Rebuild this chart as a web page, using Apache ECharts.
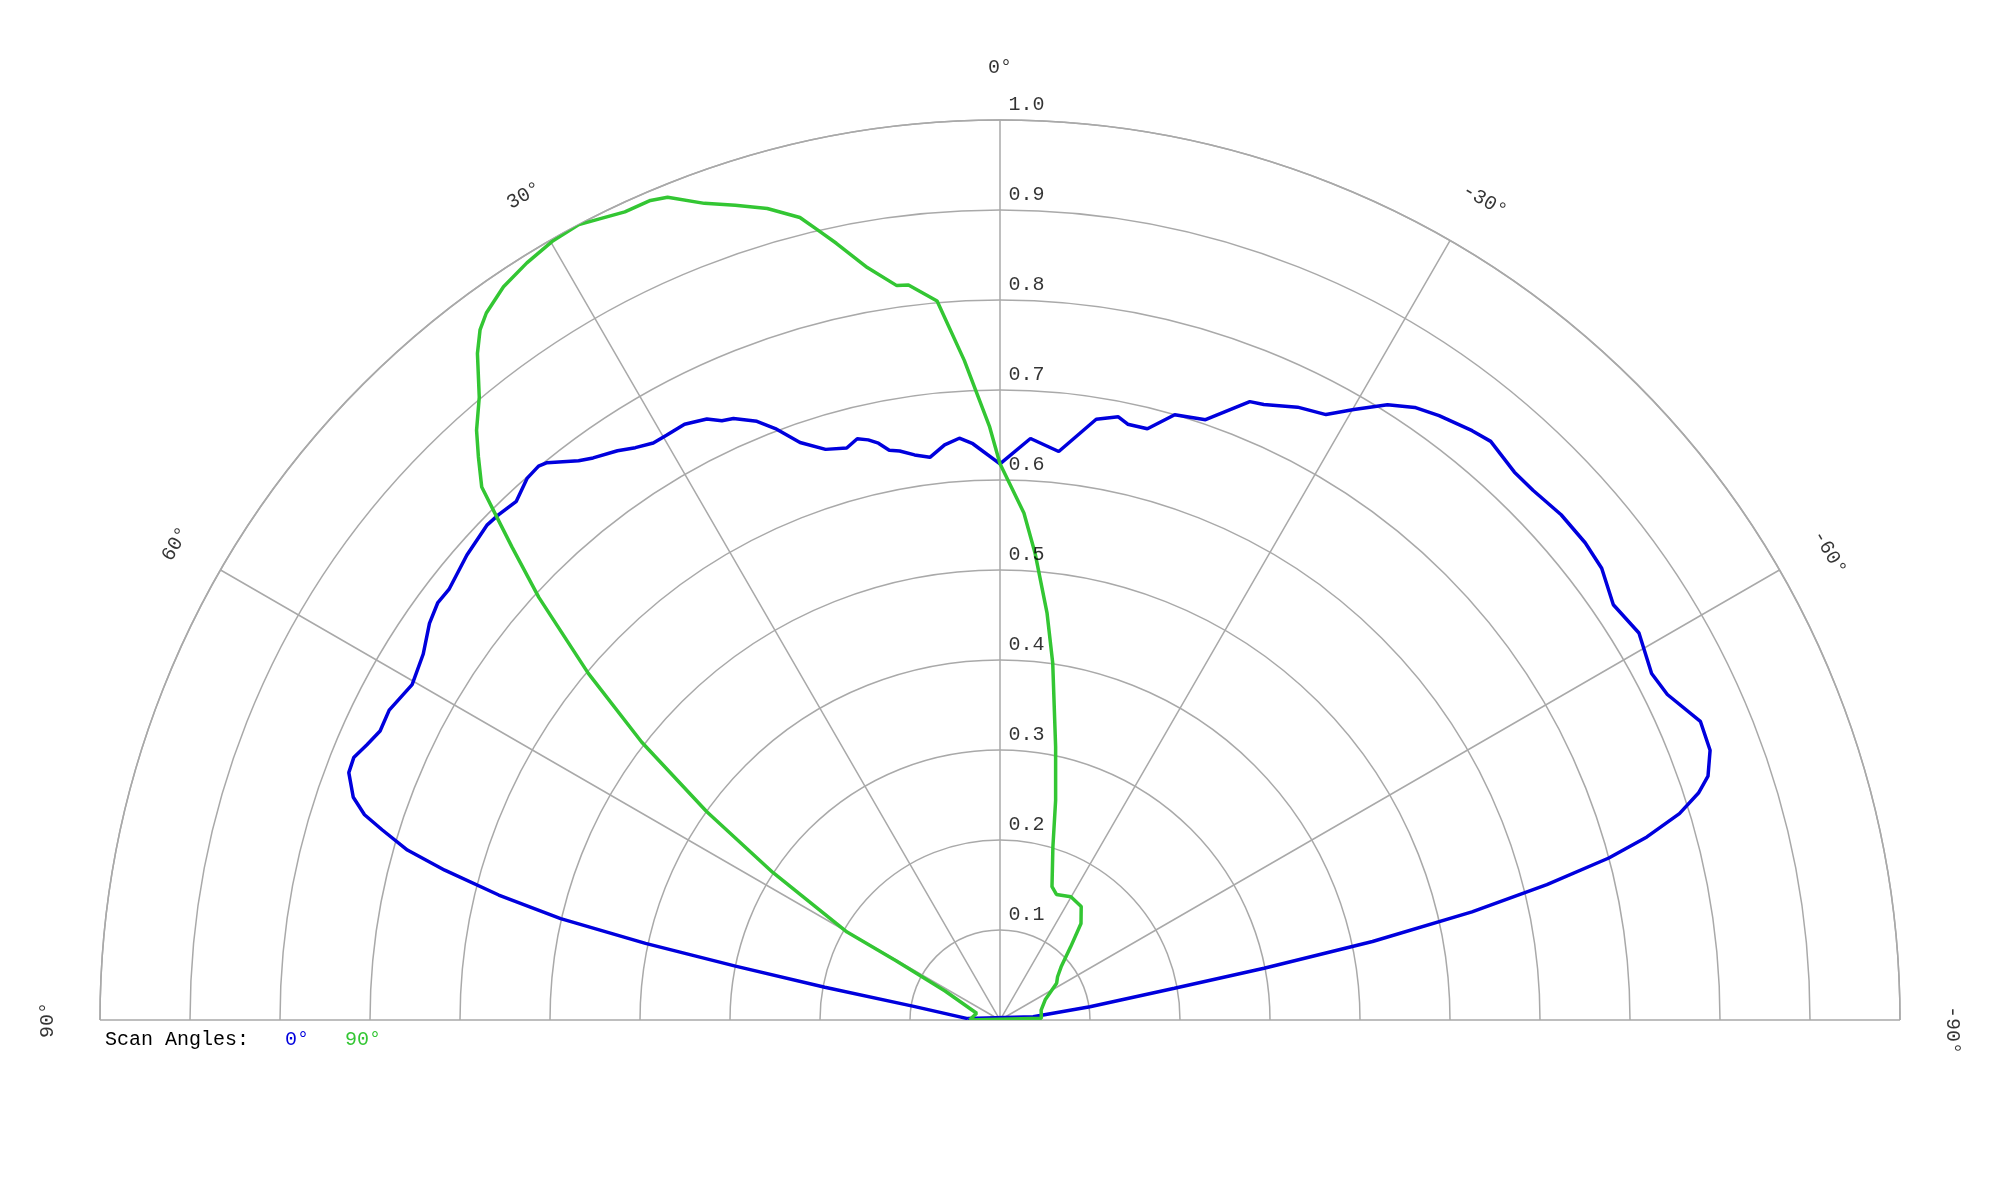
<!DOCTYPE html>
<html>
<head>
<meta charset="utf-8">
<script src="https://cdn.jsdelivr.net/npm/echarts@6/dist/echarts.min.js"></script>
<style>
html,body{margin:0;padding:0;background:#fff;}
#chart{width:2000px;height:1200px;}
</style>
</head>
<body>
<div id="chart"></div>
<script>
// ---- data (angle in degrees, positive = left; r = normalised amplitude) ----
const angleTicks = [90, 60, 30, 0, -30, -60, -90];
const radiusTicks = [0.1, 0.2, 0.3, 0.4, 0.5, 0.6, 0.7, 0.8, 0.9, 1.0];

const scan0Theta = [87.5, 81.0, 79.4, 78.5, 77.8, 77.0, 76.0, 74.9, 74.0, 72.9, 72.1, 71.0, 69.2, 67.9, 66.5, 65.0, 63.1, 60.3, 57.6, 55.2, 53.4, 52.0, 48.9, 46.0, 44.8, 43.0, 41.1, 39.8, 39.1, 37.0, 35.9, 33.9, 32.5, 31.0, 29.7, 27.9, 26.0, 24.9, 23.9, 22.1, 20.8, 19.1, 17.0, 15.0, 13.8, 12.8, 11.9, 11.0, 10.0, 8.6, 7.1, 5.5, 4.0, 2.7, 0, -3.0, -5.9, -9.1, -11.1, -12.1, -14.0, -16.1, -18.9, -22.0, -23.2, -25.9, -28.3, -30.1, -32.2, -34.1, -36.0, -38.7, -40.3, -43.2, -45.2, -48.0, -50.8, -53.1, -55.9, -58.8, -62.0, -64.0, -66.9, -69.2, -71.0, -72.0, -73.1, -74.2, -75.1, -76.1, -77.1, -78.1, -78.9, -79.7, -81.6, -84.3, 87.5];
const scan0R = [0.036, 0.097, 0.198, 0.300, 0.403, 0.501, 0.574, 0.639, 0.685, 0.718, 0.742, 0.760, 0.774, 0.775, 0.767, 0.760, 0.761, 0.752, 0.759, 0.772, 0.778, 0.777, 0.786, 0.792, 0.791, 0.788, 0.799, 0.801, 0.798, 0.778, 0.771, 0.762, 0.754, 0.748, 0.748, 0.749, 0.743, 0.734, 0.731, 0.718, 0.703, 0.679, 0.663, 0.658, 0.665, 0.661, 0.655, 0.645, 0.642, 0.635, 0.630, 0.642, 0.648, 0.641, 0.618, 0.647, 0.635, 0.676, 0.683, 0.677, 0.677, 0.700, 0.705, 0.741, 0.744, 0.757, 0.764, 0.784, 0.808, 0.822, 0.830, 0.839, 0.843, 0.835, 0.835, 0.839, 0.839, 0.836, 0.823, 0.830, 0.820, 0.825, 0.846, 0.844, 0.832, 0.816, 0.789, 0.747, 0.700, 0.626, 0.538, 0.423, 0.299, 0.197, 0.101, 0.037, 0.036];

const scan90Theta = [90, 74, 62.2, 60.3, 60.1, 57.0, 54.6, 52.2, 49.9, 47.5, 45.9, 45.0, 44.2, 42.8, 41.6, 39.9, 38.1, 37.0, 36.0, 34.1, 32.0, 29.9, 27.9, 26.5, 24.9, 23.1, 22.0, 19.9, 18.0, 16.0, 14.0, 13.0, 11.9, 10.0, 8.0, 7.1, 5.0, 3.1, 1.0, 0, -2.7, -4.3, -6.6, -8.4, -11.5, -14.2, -17.0, -21.3, -24.2, -29.9, -35.6, -40.0, -44.0, -49.0, -53.1, -57.0, -65.9, -76.5, -87.7, -90, 90];
const scan90R = [0.034, 0.027, 0.069, 0.133, 0.196, 0.301, 0.400, 0.504, 0.598, 0.695, 0.755, 0.791, 0.826, 0.853, 0.876, 0.902, 0.941, 0.960, 0.971, 0.984, 0.992, 0.998, 1.000, 0.995, 0.990, 0.990, 0.986, 0.965, 0.952, 0.938, 0.919, 0.901, 0.882, 0.849, 0.824, 0.823, 0.802, 0.734, 0.659, 0.618, 0.564, 0.520, 0.455, 0.401, 0.310, 0.252, 0.201, 0.159, 0.153, 0.158, 0.155, 0.140, 0.113, 0.090, 0.080, 0.075, 0.055, 0.047, 0.046, 0.046, 0.034];

// ---- build ----
const FONT = "'Courier New', 'Liberation Mono', monospace";
const GRID = '#a9a9a9';
const BLUE = '#0000dd';
const GREEN = '#33c633';

const pairs = (th, r) => th.map((t, i) => [r[i], t]);

const hiddenAngle = {
  type: 'value', min: -90, max: 90, interval: 30,
  startAngle: 0, endAngle: 180, clockwise: false,
  axisLine: { show: false }, axisTick: { show: false },
  axisLabel: { show: false }, splitLine: { show: false }
};

const chart = echarts.init(document.getElementById('chart'));
chart.setOption({
  animation: false,
  backgroundColor: '#ffffff',
  title: {
    left: 100,
    top: 1025,
    text: 'Scan Angles:   {b|0°}   {g|90°}',
    textStyle: {
      fontFamily: FONT, fontSize: 20, fontWeight: 'normal', color: '#000',
      rich: {
        b: { fontFamily: FONT, fontSize: 20, color: BLUE },
        g: { fontFamily: FONT, fontSize: 20, color: GREEN }
      }
    }
  },
  polar: [
    { center: [1000, 1020], radius: 900 },
    { center: [1000, 1020], radius: 952 }
  ],
  angleAxis: [
    {
      polarIndex: 0,
      type: 'value', min: -90, max: 90, interval: 30,
      startAngle: 0, endAngle: 180, clockwise: false,
      axisLine: { show: true, lineStyle: { color: GRID, width: 1.5 } },
      axisTick: { show: false },
      axisLabel: { show: false },
      splitLine: { show: true, lineStyle: { color: GRID, width: 1.5 } }
    },
    Object.assign({ polarIndex: 1 }, hiddenAngle)
  ],
  radiusAxis: [
    {
      polarIndex: 0,
      type: 'value', min: 0, max: 1, interval: 0.1,
      axisLine: { show: false }, axisTick: { show: false }, axisLabel: { show: false },
      splitLine: { show: true, lineStyle: { color: GRID, width: 1.5 } }
    },
    {
      polarIndex: 1,
      type: 'value', min: 0, max: 1,
      axisLine: { show: false }, axisTick: { show: false }, axisLabel: { show: false },
      splitLine: { show: false }
    }
  ],
  series: [
    {
      name: '0°', type: 'line', coordinateSystem: 'polar', polarIndex: 0,
      data: pairs(scan0Theta, scan0R), showSymbol: false, symbol: 'none',
      lineStyle: { color: BLUE, width: 3.5 }, silent: true, z: 3
    },
    {
      name: '90°', type: 'line', coordinateSystem: 'polar', polarIndex: 0,
      data: pairs(scan90Theta, scan90R), showSymbol: false, symbol: 'none',
      lineStyle: { color: GREEN, width: 3.5 }, silent: true, z: 4
    },
    {
      name: 'radiusLabels', type: 'scatter', coordinateSystem: 'polar', polarIndex: 0,
      symbolSize: 1, itemStyle: { color: 'rgba(0,0,0,0)' }, silent: true, z: 5,
      data: radiusTicks.map(v => [v, 0]),
      label: {
        show: true, position: 'right', distance: 8, offset: [0, -15],
        formatter: p => p.value[0].toFixed(1),
        fontFamily: FONT, fontSize: 20, color: '#000'
      }
    },
    {
      name: 'angleLabels', type: 'scatter', coordinateSystem: 'polar', polarIndex: 1,
      symbolSize: 1, itemStyle: { color: 'rgba(0,0,0,0)' }, silent: true, z: 5,
      data: angleTicks.map(v => ({
        name: v + '°',
        value: [1, v < 0 ? v - 0.6 : v],
        label: { rotate: v }
      })),
      label: {
        show: true, position: 'inside', align: 'center', verticalAlign: 'middle',
        formatter: '{b}',
        fontFamily: FONT, fontSize: 20, color: '#000'
      }
    }
  ]
});
</script>
</body>
</html>
